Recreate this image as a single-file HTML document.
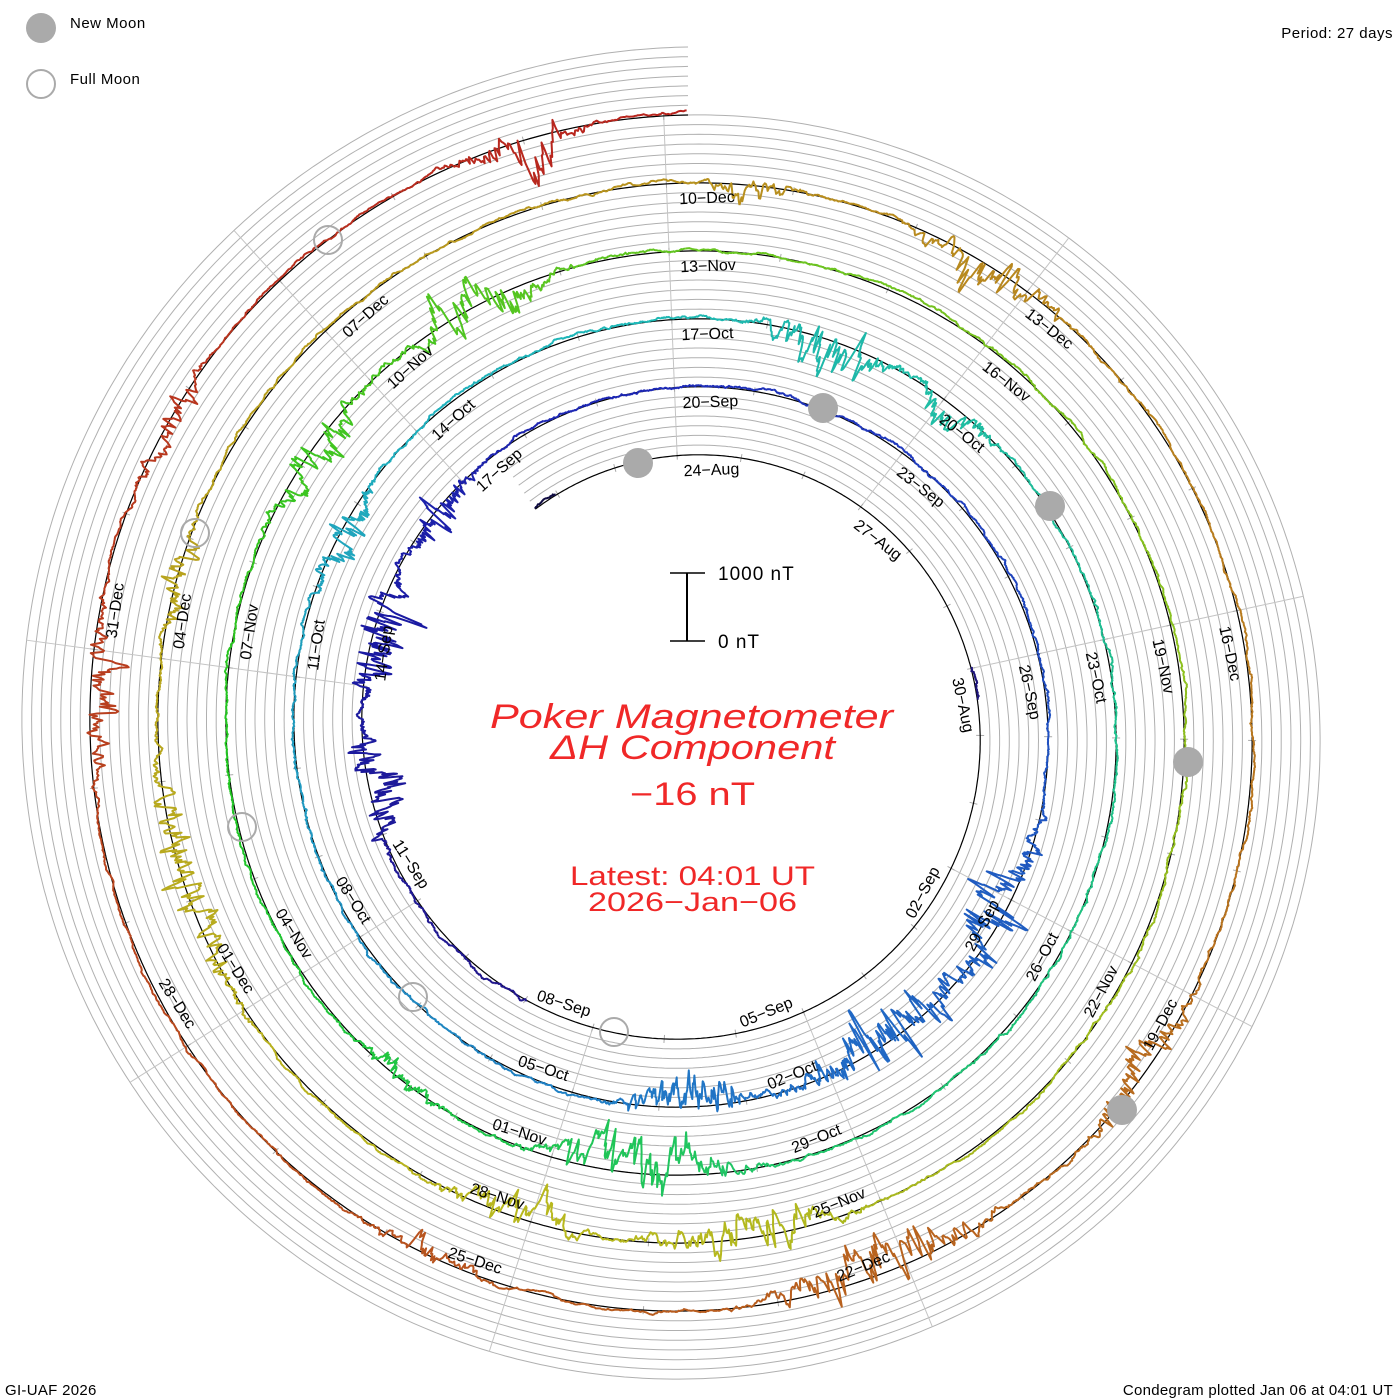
<!DOCTYPE html>
<html><head><meta charset="utf-8"><style>
html,body{margin:0;padding:0;background:#fff;}
svg{display:block;}
text{font-family:"Liberation Sans",sans-serif;}
</style></head><body>
<svg id="s" width="1400" height="1400" viewBox="0 0 1400 1400" xmlns="http://www.w3.org/2000/svg">
<rect width="1400" height="1400" fill="#fff"/>
<g id="grid"></g>
<g id="data"></g>
<g id="labels" font-size="16" fill="#000"></g>
<g id="moons">
<circle cx="638" cy="463" r="15" fill="#aaa"/>
<circle cx="823" cy="408" r="15" fill="#aaa"/>
<circle cx="1050" cy="506" r="15" fill="#aaa"/>
<circle cx="1188" cy="762" r="15" fill="#aaa"/>
<circle cx="1122" cy="1110" r="15" fill="#aaa"/>
<circle cx="328" cy="240" r="14" fill="none" stroke="#aaa" stroke-width="2"/>
<circle cx="195" cy="533" r="14" fill="none" stroke="#aaa" stroke-width="2"/>
<circle cx="242" cy="827" r="14" fill="none" stroke="#aaa" stroke-width="2"/>
<circle cx="413" cy="997" r="14" fill="none" stroke="#aaa" stroke-width="2"/>
<circle cx="614" cy="1032" r="14" fill="none" stroke="#aaa" stroke-width="2"/>
</g>
<circle cx="41" cy="28" r="15" fill="#aaa"/>
<circle cx="41" cy="84" r="14" fill="none" stroke="#aaa" stroke-width="2"/>
<text x="70" y="28" font-size="15" letter-spacing="0.5">New Moon</text>
<text x="70" y="84" font-size="15" letter-spacing="0.5">Full Moon</text>
<text x="1393" y="38" font-size="15" text-anchor="end" letter-spacing="0.5">Period: 27 days</text>
<text x="5" y="1395" font-size="15" letter-spacing="0.3">GI-UAF 2026</text>
<text x="1393" y="1395" font-size="15" text-anchor="end" letter-spacing="0.3">Condegram plotted Jan 06 at 04:01 UT</text>
<line x1="687" y1="573" x2="687" y2="641" stroke="#000" stroke-width="2"/>
<line x1="670" y1="573" x2="705" y2="573" stroke="#000" stroke-width="1.5"/>
<line x1="670" y1="641" x2="705" y2="641" stroke="#000" stroke-width="1.5"/>
<text x="718" y="580" font-size="19" letter-spacing="1">1000 nT</text>
<text x="718" y="648" font-size="19" letter-spacing="1">0 nT</text>
<g fill="#f02828">
<text x="490" y="728" font-family="'Liberation Serif',serif" font-style="italic" font-size="34" textLength="403" lengthAdjust="spacingAndGlyphs">Poker Magnetometer</text>
<text x="550" y="759" font-family="'Liberation Serif',serif" font-style="italic" font-size="34" textLength="285" lengthAdjust="spacingAndGlyphs">ΔH Component</text>
<text x="630" y="805" font-size="32" textLength="125" lengthAdjust="spacingAndGlyphs">−16 nT</text>
<text x="570" y="885" font-size="27" textLength="245" lengthAdjust="spacingAndGlyphs">Latest: 04:01 UT</text>
<text x="588" y="911" font-size="27" textLength="209" lengthAdjust="spacingAndGlyphs">2026−Jan−06</text>
</g>
</svg>
<script>
(function(){
var NS="http://www.w3.org/2000/svg";
var cx=688,cy=730,r0=275,dr=68,P=27,tS=-2.6,tE=135;
function pt(t,off){var th=t*2*Math.PI/P;var r=r0+dr*t/P+off;return [cx+r*Math.sin(th),cy-r*Math.cos(th)];}
function el(n,a,p){var e=document.createElementNS(NS,n);for(var k in a)e.setAttribute(k,a[k]);p.appendChild(e);return e;}
var grid=document.getElementById('grid'),data=document.getElementById('data'),lab=document.getElementById('labels');
function spiral(off,t0,t1){var d="";for(var t=t0;t<=t1+1e-9;t+=0.04){var p=pt(t,off);d+=(d?"L":"M")+p[0].toFixed(1)+" "+p[1].toFixed(1);}return d;}
for(var k=1;k<=7;k++){el('path',{d:spiral(k*dr/7,tS,tE),fill:'none',stroke:'#b0b0b0','stroke-width':1},grid);}
for(var k=0;k<9;k++){
  var tk=3*k-0.17;var th=tk*2*Math.PI/P;
  var rmin=r0+dr*tk/P;var tl=(k==0)?tk+135:tk+108;var rmax=r0+dr*tl/P+(k==0?0:dr);
  el('line',{x1:cx+rmin*Math.sin(th),y1:cy-rmin*Math.cos(th),x2:cx+rmax*Math.sin(th),y2:cy-rmax*Math.cos(th),stroke:'#c4c4c4','stroke-width':1},grid);
}
for(var t=Math.ceil(tS);t<=tE;t++){var tt=t-0.17;var a=pt(tt,-4),b=pt(tt,4);el('line',{x1:a[0],y1:a[1],x2:b[0],y2:b[1],stroke:'#aaa','stroke-width':1},grid);}
el('path',{d:spiral(0,tS,tE),fill:'none',stroke:'#000','stroke-width':1.2},grid);
var mon=["Jan","Feb","Mar","Apr","May","Jun","Jul","Aug","Sep","Oct","Nov","Dec"];
var base=Date.UTC(2025,7,24);
for(var k=0;k<=43;k++){
  var d=new Date(base+3*k*86400000);var s=("0"+d.getUTCDate()).slice(-2)+"\u2212"+mon[d.getUTCMonth()];
  var tk=3*k-0.17;var deg=((tk*360/P)%360+360)%360;if(deg>180)deg-=360;
  var t2=tk+0.1;var e;
  if(Math.abs(deg)<=90){var p=pt(t2,-21);e=el('text',{x:p[0].toFixed(1),y:p[1].toFixed(1),transform:'rotate('+deg.toFixed(1)+' '+p[0].toFixed(1)+' '+p[1].toFixed(1)+')','text-anchor':'start'},lab);}
  else{var p=pt(t2,-9);var rd=deg-180;e=el('text',{x:p[0].toFixed(1),y:p[1].toFixed(1),transform:'rotate('+rd.toFixed(1)+' '+p[0].toFixed(1)+' '+p[1].toFixed(1)+')','text-anchor':'end'},lab);}
  e.textContent=s;
}
var seed=12345;function rnd(){seed|=0;seed=seed+0x6D2B79F5|0;var t=Math.imul(seed^seed>>>15,1|seed);t=t+Math.imul(t^t>>>7,61|t)^t;return((t^t>>>14)>>>0)/4294967296;}
function g(){return Math.sqrt(-2*Math.log(rnd()+1e-9))*Math.cos(2*Math.PI*rnd());}
var storms=[[19.5,0.6,30],[21.5,0.7,30],[23.3,0.5,22],[36,0.8,30],[38,1.0,40],[40.5,0.6,30],[49.5,0.5,22],[55.5,0.6,30],[57,0.4,20],[68,0.8,35],[70.5,0.4,15],[77,0.6,22],[79,0.6,28],[94,0.7,28],[96,0.5,22],[100,0.8,28],[102.5,0.4,18],[108.5,0.3,18],[110.5,0.5,28],[117.5,0.5,25],[120,0.7,35],[123.5,0.4,14],[128.5,0.5,26],[130.5,0.4,18],[133.8,0.35,30]];
function env(t){var e=0;for(var i=0;i<storms.length;i++){var s=storms[i];var x=(t-s[0])/s[1];e=Math.max(e,s[2]*Math.exp(-x*x));}return e;}
var hk=[[-3,245,12],[0,245,25],[16,245,32],[27,235,42],[40,210,45],[54,178,42],[67,145,45],[81,95,45],[94,62,42],[108,45,42],[121,25,42],[135,2,42]];
function col(t){for(var i=0;i<hk.length-1;i++){if(t<=hk[i+1][0]){var f=(t-hk[i][0])/(hk[i+1][0]-hk[i][0]);var h=hk[i][1]+f*(hk[i+1][1]-hk[i][1]);var l=hk[i][2]+f*(hk[i+1][2]-hk[i][2]);return 'hsl('+h.toFixed(0)+',72%,'+l.toFixed(0)+'%)';}}return 'hsl(2,72%,42%)';}
function inData(t){return (t>=tS&&t<=tS+0.4)||(t>=5.8&&t<=6.3)||(t>=15.8&&t<=tE);}
var b=0,st=0,segs=[],cur=[];
for(var t=tS;t<=tE;t+=0.01){
  b=0.95*b+g()*0.45;st=0.8*st+g();
  var e=env(t);var dv=b+1.5+e*(0.5*st/1.7-0.4);
  if(inData(t)){cur.push([t,pt(t,dv)]);if(cur.length>=50){segs.push(cur);cur=[cur[cur.length-1]];}}
  else{if(cur.length>1)segs.push(cur);cur=[];}
}
if(cur.length>1)segs.push(cur);
segs.forEach(function(sg){var d="";for(var j=0;j<sg.length;j++){var p=sg[j][1];d+=(j?"L":"M")+p[0].toFixed(1)+" "+p[1].toFixed(1);}el('path',{d:d,fill:'none',stroke:col(sg[Math.floor(sg.length/2)][0]),'stroke-width':2,'stroke-linejoin':'round'},data);});
})();
</script>
</body></html>
